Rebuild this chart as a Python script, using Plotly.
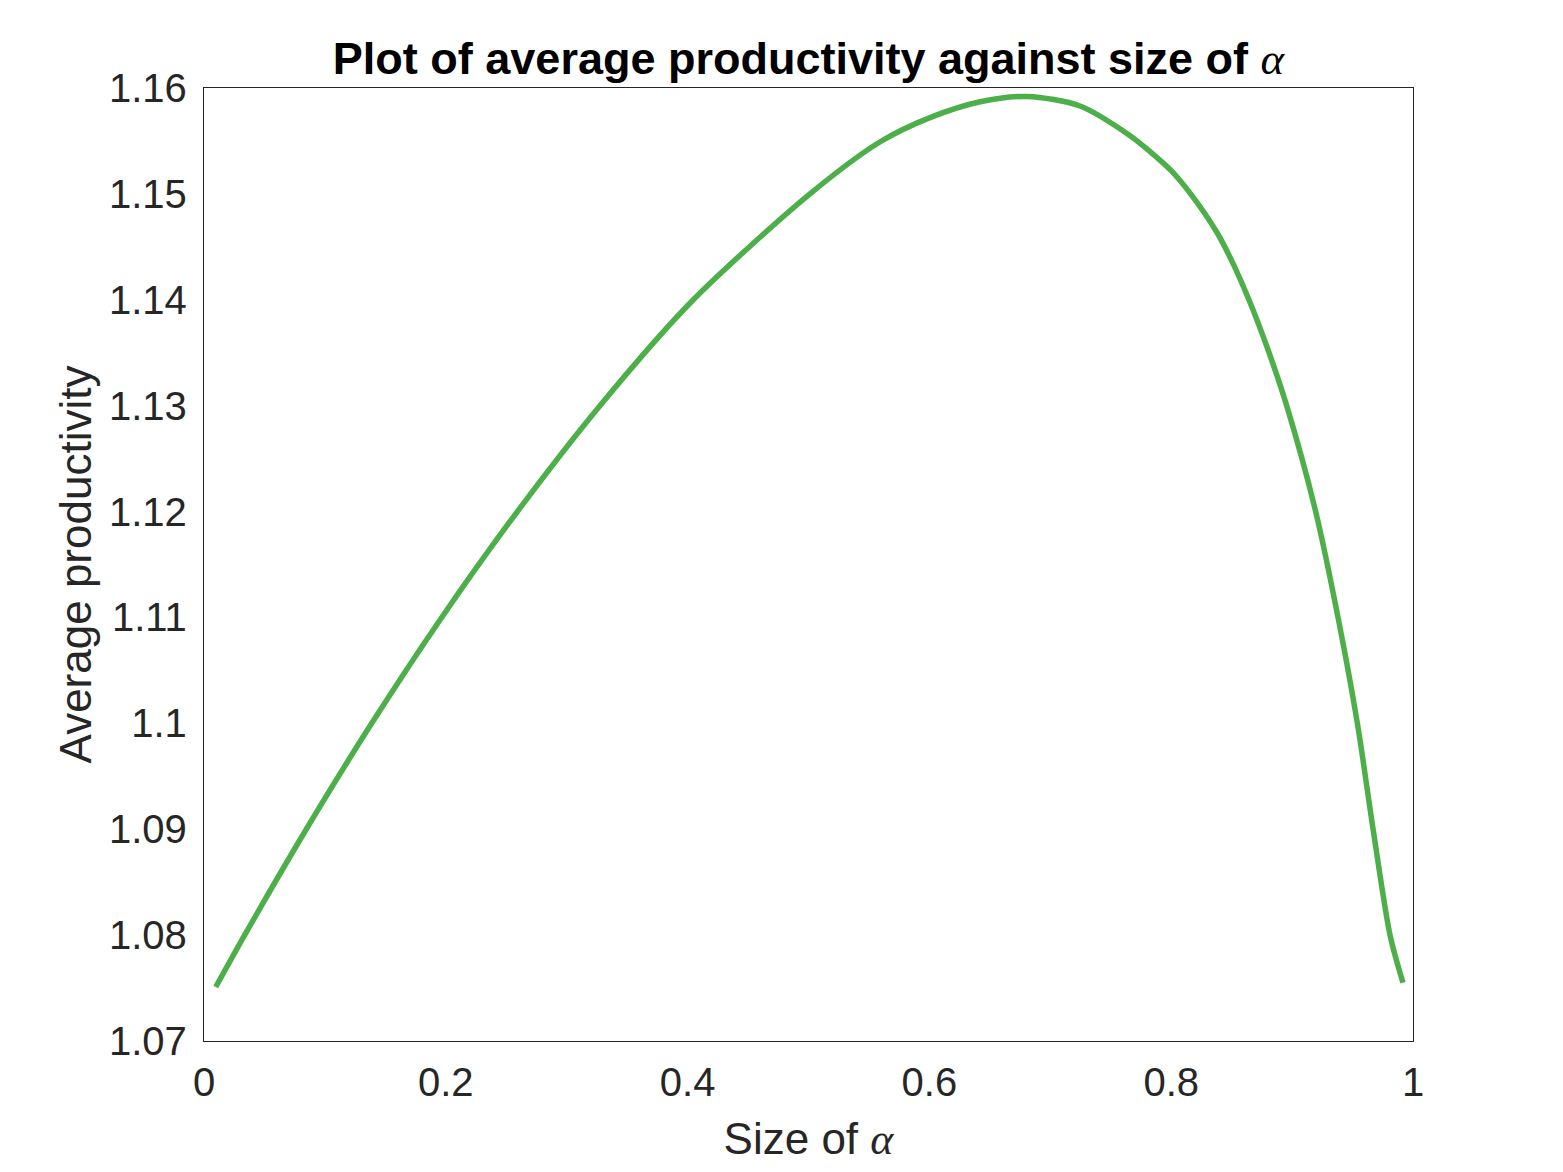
import plotly.graph_objects as go

alpha = [0.0097, 0.0336, 0.0846, 0.1387, 0.1966, 0.2592, 0.3275, 0.4047, 0.5012, 0.559, 0.6005,
         0.642, 0.681, 0.7246, 0.766, 0.7825, 0.80, 0.8161, 0.8376, 0.85, 0.8643, 0.88, 0.8955,
         0.9195, 0.938, 0.954, 0.967, 0.981, 0.9917]
productivity = [1.0751, 1.08, 1.09, 1.10, 1.11, 1.12, 1.13, 1.14, 1.15, 1.1549, 1.1572,
                1.1587, 1.1592, 1.1583, 1.1555, 1.1540, 1.1522, 1.15, 1.1464, 1.1437, 1.14, 1.1353,
                1.13, 1.12, 1.11, 1.10, 1.09, 1.08, 1.0755]

xtick_vals = [0, 0.2, 0.4, 0.6, 0.8, 1]
xtick_text = ["0", "0.2", "0.4", "0.6", "0.8", "1"]
ytick_vals = [1.07, 1.08, 1.09, 1.10, 1.11, 1.12, 1.13, 1.14, 1.15, 1.16]
ytick_text = ["1.07", "1.08", "1.09", "1.1", "1.11", "1.12", "1.13", "1.14", "1.15", "1.16"]

fig = go.Figure()
fig.add_trace(go.Scatter(x=alpha, y=productivity, mode="lines",
                         line=dict(color="#4daf4a", width=5.5, shape="spline", smoothing=0.8),
                         showlegend=False))

font_family = "Liberation Sans, Arial, sans-serif"
alpha_txt = "<span style=\"font-family:'Liberation Serif'\"><i>α</i></span>"
fig.update_layout(
    width=1555, height=1164,
    margin=dict(l=196, r=150, t=80, b=131),
    paper_bgcolor="white", plot_bgcolor="white",
    title=dict(text="<b>Plot of average productivity against size of </b>" + alpha_txt,
               x=0.5148, xanchor="center", y=0.957, yanchor="middle",
               font=dict(family=font_family, size=45, color="black")),
    xaxis=dict(range=[0, 1], tickvals=xtick_vals, ticktext=xtick_text,
               showgrid=False, zeroline=False, showline=True, mirror=True,
               linecolor="#262626", linewidth=1.3, ticks="",
               ticklabelstandoff=6,
               tickfont=dict(family=font_family, size=40, color="#262626"),
               title=dict(text="Size of " + alpha_txt, standoff=20,
                          font=dict(family=font_family, size=44, color="#262626"))),
    yaxis=dict(range=[1.07, 1.16], tickvals=ytick_vals, ticktext=ytick_text,
               showgrid=False, zeroline=False, showline=True, mirror=True,
               linecolor="#262626", linewidth=1.3, ticks="",
               ticklabelstandoff=8,
               tickfont=dict(family=font_family, size=40, color="#262626"),
               title=dict(text="Average productivity", standoff=3,
                          font=dict(family=font_family, size=44, color="#262626"))),
)

fig.write_html("out.html")
